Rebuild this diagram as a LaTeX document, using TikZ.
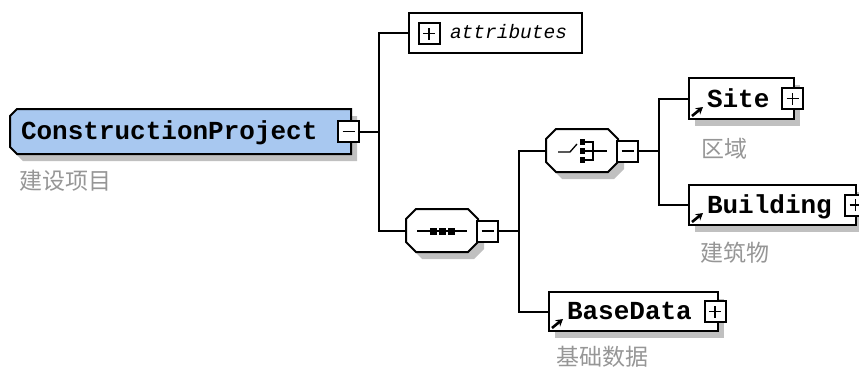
\documentclass[tikz,border=0pt]{standalone}
\usepackage{fontspec}
\setmonofont{Liberation Mono}
\newfontfamily\cjk{Noto Sans CJK SC}
\usetikzlibrary{shadows,arrows.meta}
\definecolor{elemblue}{RGB}{168,200,240}
\definecolor{labelgray}{RGB}{150,150,150}
\definecolor{shadowgray}{RGB}{192,192,192}
\tikzset{
  boxshadow/.style={drop shadow={shadow xshift=6pt,shadow yshift=-7pt,fill=shadowgray,opacity=1}},
  elembox/.style={draw,fill=white,rectangle,anchor=west,inner sep=0pt,boxshadow},
  compspot/.style={rectangle,inner sep=0pt,minimum width=70pt,minimum height=41pt},
  togglebox/.style={draw,fill=white,rectangle,minimum size=21pt,inner sep=0pt},
  minusbox/.style={togglebox,path picture={
    \draw[line width=1.3pt] ([xshift=-6pt]path picture bounding box.center) -- ([xshift=6pt]path picture bounding box.center);}},
  plusbox/.style={togglebox,path picture={
    \draw[line width=1.3pt] ([xshift=-6pt]path picture bounding box.center) -- ([xshift=6pt]path picture bounding box.center);
    \draw[line width=1.3pt] ([yshift=-6pt]path picture bounding box.center) -- ([yshift=6pt]path picture bounding box.center);}},
  elemname/.style={anchor=base west,inner sep=0pt,font=\ttfamily\bfseries\fontsize{26}{26}\selectfont},
  cnlabel/.style={anchor=west,inner sep=0pt,text=labelgray,font=\cjk\fontsize{23}{23}\selectfont},
  refarrow/.style={line width=2.6pt,-{Stealth[length=7pt,width=8pt]}},
  dot/.style={fill=black,draw=none,inner sep=0pt,minimum size=7pt}
}
% octagon round a compositor spot
\newcommand\drawoctagon[1]{%
  \filldraw[fill=white,boxshadow] ([xshift=10pt]#1.north west) -- ([xshift=-10pt]#1.north east)
    -- ([yshift=-10pt]#1.north east) -- ([yshift=10pt]#1.south east) -- ([xshift=-10pt]#1.south east)
    -- ([xshift=10pt]#1.south west) -- ([yshift=10pt]#1.south west) -- ([yshift=-10pt]#1.north west) -- cycle;}
\begin{document}
\begin{tikzpicture}[x=1pt,y=-1pt,line width=2pt]
\useasboundingbox (0,0) rectangle (859,372);
% root element
\node[rectangle,inner sep=0pt,anchor=west,minimum width=339pt,minimum height=43pt] (cp) at (10,131.5) {};
\filldraw[fill=elemblue,boxshadow] ([xshift=7pt]cp.north west) -- (cp.north east) -- (cp.south east)
  -- ([xshift=7pt]cp.south west) -- ([yshift=7pt]cp.south west) -- ([yshift=-7pt]cp.north west) -- cycle;
\node[elemname] (cptext) at (20,139) {ConstructionProject};
\node[minusbox] (cpminus) at (348.5,131.5) {};
\node[cnlabel] (cplabel) at (18,180.5) {建设项目};
% attributes
\node[draw,fill=white,rectangle,anchor=west,inner sep=0pt,minimum width=173pt,minimum height=40pt] (attr) at (408,33) {};
\node[plusbox] (attrplus) at (429,33.5) {};
\node[anchor=base west,inner sep=0pt,font=\ttfamily\itshape\fontsize{19.5}{19.5}\selectfont] (attrtext) at (449,38) {attributes};
% sequence
\node[compspot] (seq) at (442,230.5) {};
\drawoctagon{seq}
\node[minusbox] (seqminus) at (487.5,231) {};
\draw[line width=1.3pt] (417,231) -- (467,231);
\foreach \i in {433,442,451}
  \node[dot] (seqdot\i) at (\i,231) {};
% choice
\node[compspot] (choice) at (582,150.5) {};
\drawoctagon{choice}
\node[minusbox] (choiceminus) at (627.5,151) {};
\draw[line width=1.3pt] (558,152) -- (570,152) -- (577,144);
\foreach \j in {142,151,160}
  \node[dot,minimum width=5pt,minimum height=6pt] (choicedot\j) at (582.5,\j) {};
\draw[line width=1.3pt] (585,142) -- (593,142) -- (593,160) -- (585,160);
\draw[line width=1.3pt] (585,151) -- (607,151);
% elements
\node[elembox,minimum width=105pt,minimum height=41pt] (site) at (688,98.5) {};
\node[elemname] (sitetext) at (706,107) {Site};
\node[plusbox] (siteplus) at (792.5,98.5) {};
\draw[refarrow] ([shift={(4,-4)}]site.south west) -- ++(11,-9);
\node[cnlabel] (sitelabel) at (700,148.5) {区域};
\node[elembox,minimum width=167pt,minimum height=40pt] (building) at (688,205) {};
\node[elemname] (buildingtext) at (706,213) {Building};
\node[plusbox] (buildingplus) at (855.5,205) {};
\draw[refarrow] ([shift={(4,-4)}]building.south west) -- ++(11,-9);
\node[cnlabel] (buildinglabel) at (699,252.5) {建筑物};
\node[elembox,minimum width=169pt,minimum height=39pt] (basedata) at (548,311.5) {};
\node[elemname] (basedatatext) at (566,319) {BaseData};
\node[plusbox] (basedataplus) at (715,311.5) {};
\draw[refarrow] ([shift={(4,-4)}]basedata.south west) -- ++(11,-9);
\node[cnlabel] (basedatalabel) at (555,357) {基础数据};
% connectors
\draw (cpminus.east) -- ++(19,0) |- (attr.west);
\draw (cpminus.east) -- ++(19,0) |- (seq.west);
\draw (seqminus.east) -- ++(20,0) |- (choice.west);
\draw (seqminus.east) -- ++(20,0) |- (basedata.west);
\draw (choiceminus.east) -- ++(20,0) |- (site.west);
\draw (choiceminus.east) -- ++(20,0) |- (building.west);
\end{tikzpicture}
\end{document}
